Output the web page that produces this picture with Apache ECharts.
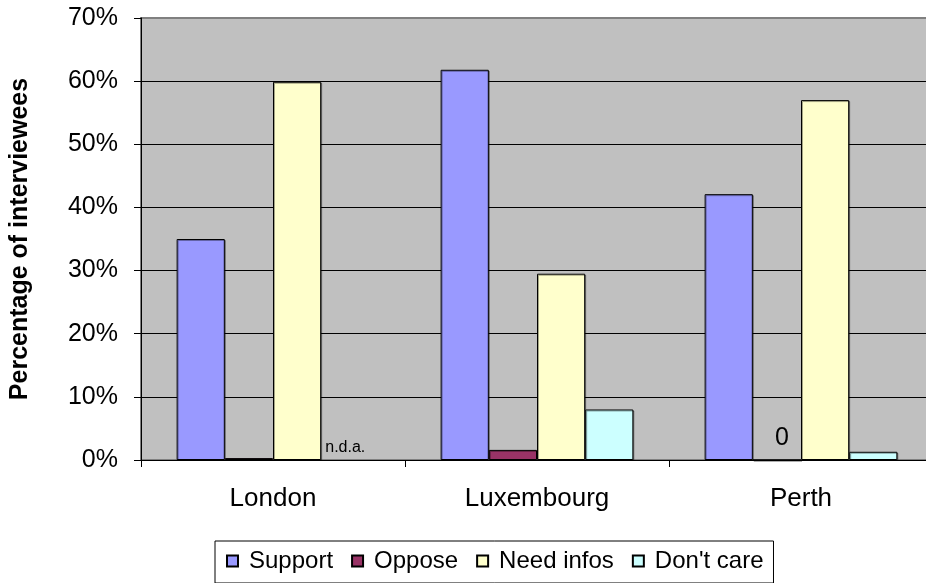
<!DOCTYPE html>
<html>
<head>
<meta charset="utf-8">
<script src="https://cdn.jsdelivr.net/npm/echarts@6/dist/echarts.min.js"></script>
<style>
  html, body { margin: 0; padding: 0; background: #ffffff; }
  #chart { width: 926px; height: 583px; }
</style>
</head>
<body>
<div id="chart"></div>
<script>
// Survey answers per city, in percent of interviewees
const cities = ['London', 'Luxembourg', 'Perth'];
const seriesNames = ['Support', 'Oppose', 'Need infos', "Don't care"];
const support = [35.0, 61.8, 42.1];
const oppose = [0.3, 1.6, 0];
const needInfos = [59.9, 29.5, 57.0];
const dontCare = [null, 8.0, 1.3]; // null = no data available
const yTicks = [0, 10, 20, 30, 40, 50, 60, 70];

const colors = ['#9999ff', '#993366', '#ffffcc', '#ccffff'];
const FONT = "'Liberation Sans', Arial, sans-serif";

function buildData(values) {
  return values.map(function (v) {
    if (v === null) {
      // no data: empty slot labelled "n.d.a."
      return {
        value: 0,
        itemStyle: { color: 'rgba(0,0,0,0)', borderWidth: 0, shadowColor: 'rgba(0,0,0,0)' },
        label: {
          show: true, position: 'top', distance: 4,
          formatter: 'n.d.a.', fontSize: 16, color: '#000', fontFamily: FONT
        }
      };
    }
    if (v === 0) {
      return {
        value: 0,
        label: {
          show: true, position: 'top', distance: 9, offset: [5, 0],
          formatter: '0', fontSize: 25, color: '#000', fontFamily: FONT
        }
      };
    }
    return v;
  });
}

const allValues = [support, oppose, needInfos, dontCare];

const chart = echarts.init(document.getElementById('chart'), null, { renderer: 'canvas' });
chart.setOption({
  animation: false,
  backgroundColor: '#ffffff',
  textStyle: { fontFamily: FONT },
  grid: {
    left: 141, top: 18, width: 792, height: 442,
    outerBoundsMode: 'none',
    containLabel: false,
    show: true, backgroundColor: '#c0c0c0',
    borderColor: '#808080', borderWidth: 2
  },
  legend: {
    data: seriesNames,
    left: 215, top: 541,
    icon: 'rect', itemWidth: 11, itemHeight: 11, itemGap: 18,
    padding: [8, 10, 10, 11],
    borderColor: '#000', borderWidth: 1,
    textStyle: { fontSize: 24, color: '#000', fontFamily: FONT, padding: [0, 0, 0, 6] }
  },
  xAxis: {
    type: 'category',
    data: cities,
    boundaryGap: true,
    axisLine: { show: true, lineStyle: { color: '#000', width: 1 } },
    axisTick: { show: true, length: 7, alignWithLabel: false, lineStyle: { color: '#000' } },
    axisLabel: { fontSize: 26, color: '#000', margin: 26, fontFamily: FONT },
    splitLine: { show: false }
  },
  yAxis: {
    type: 'value',
    min: yTicks[0], max: yTicks[yTicks.length - 1], interval: 10,
    name: 'Percentage of interviewees',
    nameLocation: 'middle', nameGap: 108,
    nameTextStyle: { fontSize: 25, fontWeight: 'bold', color: '#000', fontFamily: FONT },
    axisLine: { show: true, lineStyle: { color: '#000', width: 1 } },
    axisTick: { show: true, length: 7, lineStyle: { color: '#000' } },
    axisLabel: { fontSize: 25, color: '#000', margin: 23, fontFamily: FONT, formatter: '{value}%' },
    splitLine: { show: true, showMaxLine: false, lineStyle: { color: '#000', width: 1 } }
  },
  series: seriesNames.map(function (name, i) {
    return {
      name: name,
      type: 'bar',
      barGap: '0%',
      barCategoryGap: '27%',
      data: buildData(allValues[i]),
      itemStyle: {
        color: colors[i], borderColor: '#000', borderWidth: 1,
        shadowColor: 'rgba(0,0,0,0.35)', shadowOffsetX: 1, shadowOffsetY: 1
      }
    };
  })
});
</script>
</body>
</html>
